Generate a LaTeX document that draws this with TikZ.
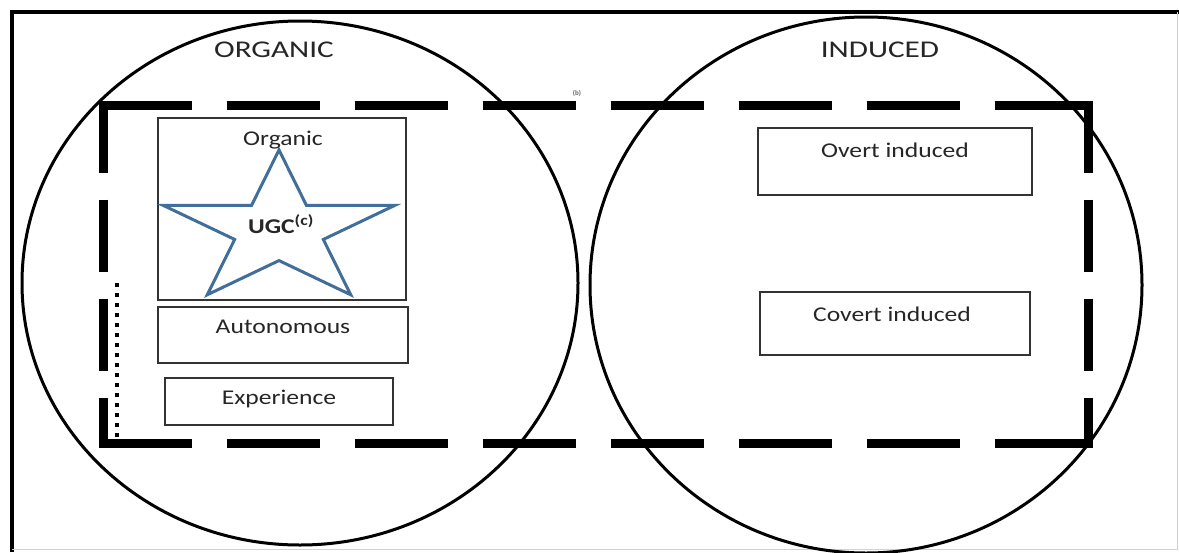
\documentclass[tikz,border=0pt]{standalone}
\usepackage{fontspec}
\setmainfont{Carlito}
\usepackage{graphicx}
\definecolor{starblue}{RGB}{65,110,155}
\definecolor{txtgray}{RGB}{38,38,38}
\newcommand{\widen}[1]{\scalebox{1.22}[1]{#1}}
\newcommand{\widenhead}[1]{\scalebox{1.3}[1]{#1}}
\tikzset{
  box/.style={draw=black!80, line width=1.3pt, inner sep=0pt},
  boxtxt/.style={font=\fontsize{21}{25}\selectfont, text=txtgray, inner sep=0pt, anchor=base},
  headtxt/.style={font=\fontsize{24}{28}\selectfont, text=txtgray, inner sep=0pt, anchor=base},
  ring/.style={line width=3pt},
  hdash/.style={line width=9pt, dash pattern=on 93pt off 35pt},
  vdash/.style={line width=9pt, dash pattern=on 72pt off 27pt},
  starline/.style={draw=starblue, line width=3pt, line join=miter},
}
\begin{document}
\begin{tikzpicture}[x=1pt,y=-1pt]
    \useasboundingbox (0,0) rectangle (1179,552);
    % frame
    \draw[line width=3.5pt] (12,552)--(12,12)--(1179,12);
    \draw[gray!35, line width=1pt] (1177,12)--(1177,549)--(12,549);
    % the two sets
    \draw[ring] (300,283) ellipse [x radius=278, y radius=262];
    \draw[ring] (866,285) ellipse [x radius=276, y radius=268];
    \node[headtxt] (organichead) at (274,57) {\widenhead{ORGANIC}};
    \node[headtxt] (inducedhead) at (880,57) {\widenhead{INDUCED}};
    % dashed frame
    \draw[hdash] (98.5,105)--(1092.5,105);
    \draw[hdash] (98.5,443)--(1092.5,443);
    \draw[vdash] (103,100.5)--(103,447.5);
    \draw[vdash] (1088,100.5)--(1088,447.5);
    \node[font=\fontsize{7}{8}\selectfont\bfseries, text=black!60, inner sep=0pt, anchor=base] (blabel) at (577,95) {(b)};
    \draw[line width=4pt, dash pattern=on 4pt off 6pt] (117,283)--(117,440);
    % organic side
    \node[box, minimum width=248, minimum height=182] (organicbox) at (282,209) {};
    \begin{scope}[shift={(279,230)}, yscale=0.656]
        \draw[starline] (270:122) \foreach \k in {0,...,4}{ -- ({306+72*\k}:46.6) -- ({342+72*\k}:122)} -- cycle;
    \end{scope}
    \node[boxtxt] (organictxt) at (283,145) {\widen{Organic}};
    \node[boxtxt] (ugc) at (281,233) {\widen{\textbf{UGC}\textsuperscript{\textbf{(c)}}}};
    \node[box, minimum width=250, minimum height=56] (autobox) at (283,335) {};
    \node[boxtxt] (autotxt) at (283,333) {\widen{Autonomous}};
    \node[box, minimum width=228, minimum height=47] (expbox) at (279,401.5) {};
    \node[boxtxt] (exptxt) at (279,404) {\widen{Experience}};
    % induced side
    \node[box, minimum width=274, minimum height=67] (overtbox) at (895,161.5) {};
    \node[boxtxt] (overttxt) at (895,157) {\widen{Overt induced}};
    \node[box, minimum width=270, minimum height=63] (covertbox) at (895,323.5) {};
    \node[boxtxt] (coverttxt) at (892,321) {\widen{Covert induced}};
\end{tikzpicture}
\end{document}
